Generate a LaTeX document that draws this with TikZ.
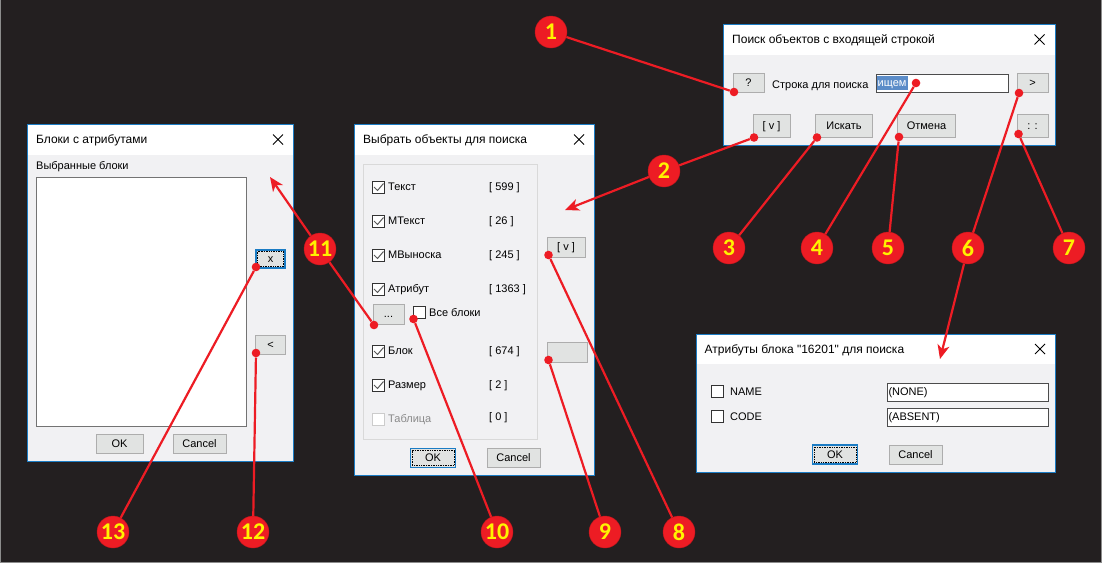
\documentclass[tikz,border=0pt]{standalone}
\usepackage{fontspec}
\usepackage{xcolor}
\setmainfont{Liberation Sans}[Ligatures=TeXOff]
\newfontfamily\badgefont{Carlito}
\usetikzlibrary{arrows.meta}
\definecolor{winblue}{HTML}{1B7CC4}
\definecolor{panel}{HTML}{F1F1F3}
\definecolor{btnface}{HTML}{E1E3E2}
\definecolor{btnedge}{HTML}{ADADAD}
\definecolor{leadred}{HTML}{ED1C24}
\definecolor{sheet}{HTML}{231F20}
\definecolor{selblue}{HTML}{5B8CC8}
\definecolor{grayed}{HTML}{8A8A8A}
\tikzset{
	uitext/.style={font=\fontsize{11}{12}\selectfont,text=black,inner sep=0pt,text height=7.5pt,text depth=0pt},
	btn/.style={uitext,draw=btnedge,fill=btnface,line width=1pt,minimum height=19pt,inner sep=0pt},
	defbtn/.style={btn,draw=winblue,line width=1.6pt},
	edit/.style={uitext,draw=black!70,fill=white,line width=1pt,anchor=west,text width=130pt,minimum height=18pt,inner sep=1pt,align=left},
	lbl/.style={uitext,anchor=west},
	num/.style={uitext,anchor=west},
	chkbox/.style={draw=black!80,fill=white,line width=1pt,minimum size=12pt,inner sep=0pt},
	badge/.style={circle,fill=leadred,draw=leadred!80!black,line width=0.4pt,minimum size=32pt,inner sep=0pt,text=yellow,font=\badgefont\bfseries\fontsize{24}{24}\selectfont},
	pin/.style={circle,fill=leadred,minimum size=8.6pt,inner sep=0pt},
	lead/.style={draw=leadred,line width=2.2pt},
	leadarrow/.style={lead,-{Stealth[length=14pt,width=12pt,inset=4pt]}},
}
\begin{document}
\begin{tikzpicture}[x=1pt,y=-1pt]
	\useasboundingbox (0,0) rectangle (1102,563);
	\fill[black!45] (0,0) rectangle (1102,563);
	\fill[sheet] (1,0) rectangle (1101,562);
	% Dialog frames
	\foreach \xa/\ya/\xb/\yb/\tb/\ttl in {
		723.5/24.5/1055/145/55/Поиск объектов с входящей строкой,
		354.5/124.5/594.5/475.5/155/Выбрать объекты для поиска,
		27.5/124.5/293.5/461/155/Блоки с атрибутами,
		696/334/1055.5/472.5/364/Атрибуты блока "16201" для поиска}
	{
		\fill[white] (\xa,\ya) rectangle (\xb,\tb);
		\fill[panel] (\xa,\tb) rectangle (\xb,\yb);
		\draw[winblue,line width=1pt] (\xa,\ya) rectangle (\xb,\yb);
		\node[lbl,font=\fontsize{12}{13}\selectfont] at (\xa+8.5,\ya+15.5) {\ttl};
		\draw[line width=0.9pt] (\xb-20.5,\ya+10) -- ++(10,10) (\xb-20.5,\ya+20) -- ++(10,-10);
	}

	% Search dialog
	\node[btn,minimum width=31pt] (helpbtn) at (748.5,83) {?};
	\node[lbl] (findlbl) at (772,84.5) {Строка для поиска};
	\node[edit] (findedit) at (876,83) {\phantom{ищем}};
	\fill[selblue] (877,76) rectangle (908,90);
	\node[lbl,text=white] (findtext) at (877.5,83) {ищем};
	\node[btn,minimum width=31pt] (nextbtn) at (1032.5,83) {>};
	\node[btn,minimum width=37pt,minimum height=23pt] (vbtn) at (771.5,125.5) {[ v ]};
	\node[btn,minimum width=57pt,minimum height=23pt] (gobtn) at (844,125.5) {Искать};
	\node[btn,minimum width=58pt,minimum height=23pt] (stopbtn) at (926.5,125.5) {Отмена};
	\node[btn,minimum width=31pt,minimum height=23pt] (dotsbtn) at (1032.5,125.5) {: :};

	% Object dialog
	\draw[black!15,line width=1pt] (363.5,164.5) rectangle (537.5,439);
	\foreach \y/\nm/\cnt in {187/Текст/599,221/МТекст/26,255/МВыноска/245,289/Атрибут/1363,351/Блок/674,385/Размер/2}
	{
		\node[chkbox] at (378.5,\y) {};
		\draw[black!65,line width=1pt] (374,\y) -- ++(3.5,3.5) -- ++(6,-7);
		\node[lbl] at (388,\y) {\nm};
		\node[num] at (489,\y-0.5) {[ \cnt\ ]};
	}
	\node[chkbox,draw=black!20] (tablebox) at (378.5,419) {};
	\node[lbl,text=grayed] (tablelbl) at (388,419) {Таблица};
	\node[num] (tablecnt) at (489,416.5) {[ 0 ]};
	\node[btn,minimum width=31pt,minimum height=20pt] (morebtn) at (388.5,314) {...};
	\node[chkbox] (allbox) at (419.5,312.5) {};
	\node[lbl] (alllbl) at (429,313) {Все блоки};
	\node[btn,minimum width=38pt,minimum height=20pt] (checkbtn) at (566,247) {[ v ]};
	\node[btn,minimum width=40pt,minimum height=20pt] (blankbtn) at (567,352) {};
	\node[defbtn,minimum width=45pt] (okobj) at (433,458) {OK};
	\draw[densely dotted,line width=0.7pt] (412,450.5) rectangle (454,465.5);
	\node[btn,minimum width=53pt] (cancelobj) at (513.5,458) {Cancel};

	% Block dialog
	\node[lbl] (picklbl) at (36,166) {Выбранные блоки};
	\node[draw=black!55,fill=white,line width=1pt,minimum width=210pt,minimum height=249pt,inner sep=0pt] (picklist) at (141,301.5) {};
	\node[defbtn,minimum width=29pt,minimum height=18pt] (dropbtn) at (270.5,259) {x};
	\draw[densely dotted,line width=0.7pt] (257.5,251.5) rectangle (283.5,266.5);
	\node[btn,minimum width=30pt] (addbtn) at (270.5,344.5) {<};
	\node[btn,minimum width=47pt] (okpick) at (119.5,443.5) {OK};
	\node[btn,minimum width=53pt] (cancelpick) at (199.5,443.5) {Cancel};

	% Attribute dialog
	\foreach \y/\nm/\val in {391.5/NAME/(NONE),416.5/CODE/(ABSENT)}
	{
		\node[chkbox] at (717.5,\y) {};
		\node[lbl] at (730,\y+0.5) {\nm};
		\node[edit,text width=159pt] at (887,\y+0.5) {\val};
	}
	\node[defbtn,minimum width=45pt] (okattr) at (835,454.5) {OK};
	\draw[densely dotted,line width=0.7pt] (814,447) rectangle (856,462);
	\node[btn,minimum width=53pt] (cancelattr) at (915.5,454.5) {Cancel};

	% Callouts
	\foreach \n/\bx/\by/\px/\py in {
		1/551/32/734/92,3/729/248/817/137.5,4/817/248/916/83,5/888/248/899/137,
		7/1069/248/1018.5/134,8/679/532/548.5/255,9/605/532/548.5/360,
		10/497/532/413.5/319,12/253/532/256/353,13/113/532/256/267}
	{
		\node[pin] (pin\n) at (\px,\py) {};
		\node[badge] (call\n) at (\bx,\by) {\n};
		\draw[lead] (call\n) -- (pin\n);
	}
	\foreach \n/\bx/\by/\px/\py/\tx/\ty in {
		2/664/171/754/137.5/565/210,
		6/968/248/1019/93/940/359,
		11/320/249/374/325/270/177}
	{
		\node[pin] (pin\n) at (\px,\py) {};
		\coordinate (tip\n) at (\tx,\ty);
		\node[badge] (call\n) at (\bx,\by) {\n};
		\draw[lead] (call\n) -- (pin\n);
		\draw[leadarrow] (call\n) -- (tip\n);
	}
\end{tikzpicture}
\end{document}
